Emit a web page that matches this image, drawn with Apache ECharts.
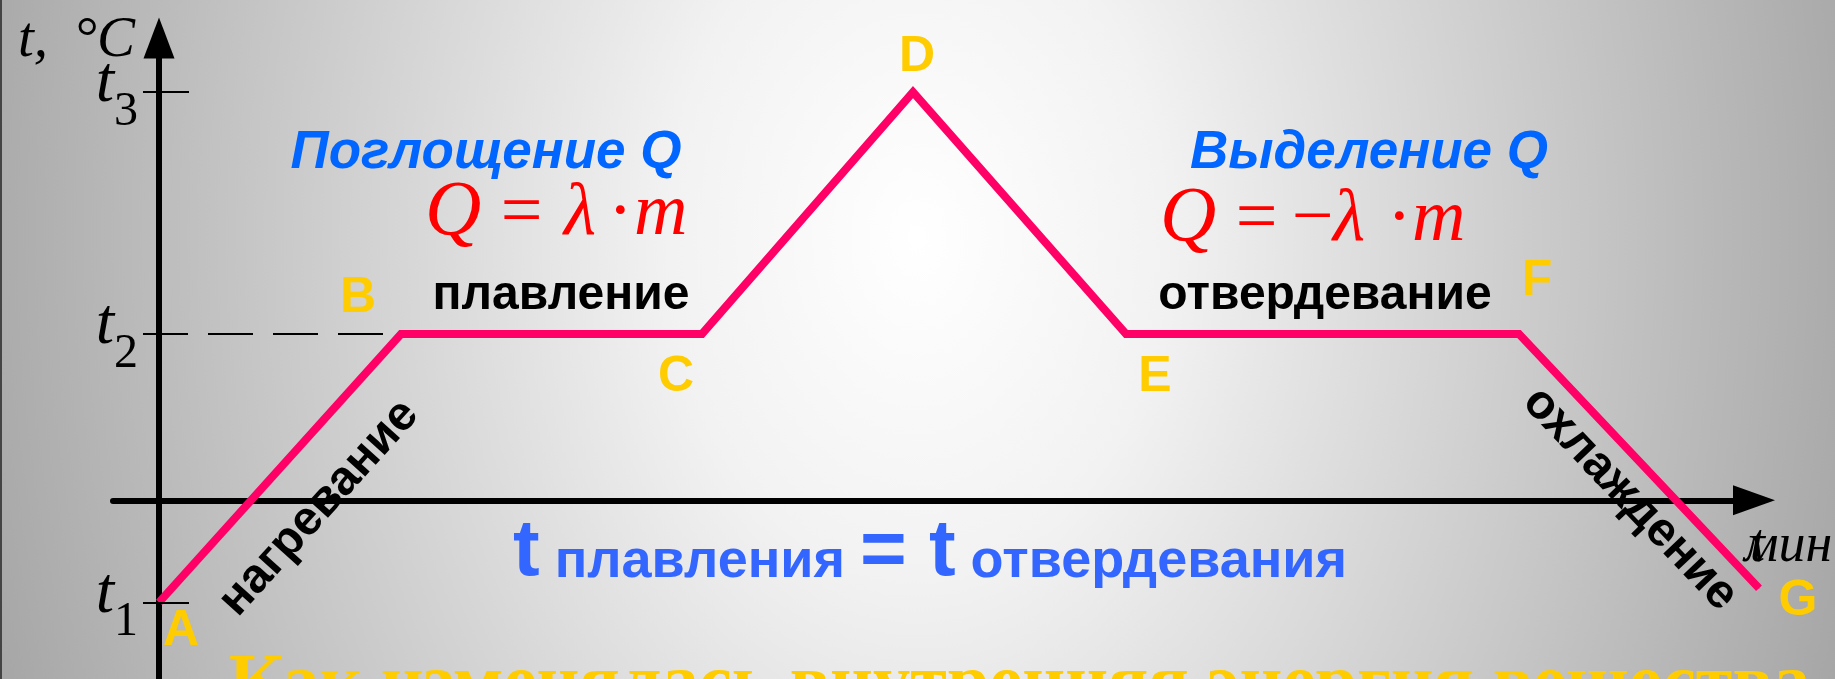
<!DOCTYPE html>
<html>
<head>
<meta charset="utf-8">
<title>Плавление и отвердевание</title>
<script src="https://cdn.jsdelivr.net/npm/echarts@6.0.0/dist/echarts.min.js"></script>
<style>
  html, body { margin: 0; padding: 0; }
  #chart {
    width: 1835px;
    height: 679px;
    background: radial-gradient(ellipse 54% 200% at 50% 35%, #ffffff 0%, #f2f2f2 25%, #a4a4a4 100%);
  }
</style>
</head>
<body>
<div id="chart"></div>
<script>
// точки графика A..G
var pointNames = ['A', 'B', 'C', 'D', 'E', 'F', 'G']
var timeValues = [0, 24.2, 54.3, 75.4, 96.7, 136, 160]
var tempValues = [-10, 16.3, 16.3, 40, 16.3, 16.3, -8.6]

// отметки на оси температуры: t1, t2, t3
var tickValues = [-10, 16.3, 40]
var tickNames = ['1', '2', '3']
var meltTemp = 16.3

var chart = echarts.init(document.getElementById('chart'))

// смещения подписей точек (px)
var labelOffsets = [[22, 29], [-43, -36], [-26, 43], [4, -35], [29, 43], [18, -53], [39, 13]]

var lineData = []
for (var i = 0; i < pointNames.length; i++) {
  lineData.push({
    name: pointNames[i],
    value: [timeValues[i], tempValues[i]],
    label: { offset: labelOffsets[i] }
  })
}

var tickLines = []
for (var j = 0; j < tickValues.length; j++) {
  var dashed = tickValues[j] === meltTemp
  tickLines.push([
    { coord: [-1.6, tickValues[j]], lineStyle: { type: dashed ? [45, 20] : 'solid' } },
    { coord: [dashed ? timeValues[1] : 3, tickValues[j]] }
  ])
}

var sans = 'Liberation Sans'
var serif = 'Liberation Serif'
var narrow = "'Liberation Sans Narrow', 'Liberation Sans'"

// формула из отдельных знаков: [знак, x, размер]
function formula(parts, baseline) {
  var res = []
  for (var k = 0; k < parts.length; k++) {
    var size = parts[k][2] || 74
    res.push({
      type: 'text', x: parts[k][1], y: baseline - 0.3375 * size,
      style: { text: parts[k][0], fill: '#ff0000', fontFamily: serif, fontStyle: 'italic', fontSize: size, verticalAlign: 'middle' }
    })
  }
  return res
}

function caption(text, x, y, opts) {
  return {
    type: 'text', x: x, y: y, rotation: (opts.rotate || 0) * Math.PI / 180,
    style: {
      text: text, fill: opts.color || '#000', fontFamily: opts.family || sans,
      fontWeight: opts.weight || 'bold', fontStyle: opts.style || 'normal',
      fontSize: opts.size, align: opts.align || 'center', verticalAlign: 'middle'
    }
  }
}

var graphics = [
  { type: 'rect', x: 0, y: 0, shape: { width: 2, height: 679 }, style: { fill: '#444' } },
  {
    type: 'text', x: 18, y: 41,
    style: {
      text: '{a|t,}{b|°C}', verticalAlign: 'middle',
      rich: {
        a: { fontFamily: serif, fontStyle: 'italic', fontSize: 57, fill: '#000' },
        b: { fontFamily: serif, fontStyle: 'italic', fontSize: 57, fill: '#000', padding: [0, 0, 0, 26] }
      }
    }
  },
  caption('Поглощение Q', 486, 153, { color: '#0066ff', style: 'italic', size: 53 }),
  caption('плавление', 561, 296, { size: 48 }),
  caption('Выделение Q', 1369, 153, { color: '#0066ff', style: 'italic', size: 53 }),
  caption('отвердевание', 1325, 296, { size: 48 }),
  caption('нагревание', 319, 508, { size: 48, rotate: 48 }),
  caption('охлаждение', 1630, 499, { size: 48, rotate: -46.5 }),
  caption('мин', 1744, 547, { family: serif, weight: 'normal', style: 'italic', size: 54, align: 'left' }),
  caption('t', 1750, 547, { family: serif, weight: 'normal', style: 'italic', size: 54, align: 'left' }),
  {
    type: 'text', x: 930, y: 553,
    style: {
      text: '{b|t}{s| плавления }{b|= t}{s| отвердевания}', align: 'center', verticalAlign: 'middle',
      rich: {
        b: { fontFamily: narrow, fontWeight: 'bold', fontSize: 80, fill: '#3366ff' },
        s: { fontFamily: narrow, fontWeight: 'bold', fontSize: 54, fill: '#3366ff', padding: [18, 0, 0, 0] }
      }
    }
  },
  caption('Как изменялась внутренняя энергия вещества', 229, 686, { color: '#ffcc00', family: serif, size: 74.5, align: 'left' })
]

graphics = graphics
  .concat(formula([['Q', 425, 78], ['=', 496], ['λ', 564], ['·', 610], ['m', 634]], 240))
  .concat(formula([['Q', 1160, 78], ['=', 1231], ['−', 1287], ['λ', 1333], ['·', 1389], ['m', 1412]], 246))

var option = {
  animation: false,
  grid: { left: 113, right: 74, top: 41, bottom: 0, outerBoundsMode: 'none' },
  xAxis: {
    type: 'value',
    min: -4.6,
    max: 160.2,
    axisLine: {
      onZero: true,
      symbol: ['none', 'triangle'],
      symbolSize: [30, 42],
      symbolOffset: [0, -7],
      lineStyle: { color: '#000', width: 6 }
    },
    axisTick: { show: false },
    axisLabel: { show: false },
    splitLine: { show: false }
  },
  yAxis: {
    type: 'value',
    min: -17.5,
    max: 45,
    axisLine: {
      show: true,
      onZero: true,
      symbol: ['none', 'triangle'],
      symbolSize: [31, 41],
      symbolOffset: [0, 3],
      lineStyle: { color: '#000', width: 6 }
    },
    axisTick: { show: false },
    splitLine: { show: false },
    axisLabel: {
      customValues: tickValues,
      margin: -25,
      formatter: function (v) {
        var k = tickValues.indexOf(v)
        return '{t|t}{s|' + tickNames[k] + '}'
      },
      rich: {
        t: { fontFamily: serif, fontStyle: 'italic', fontSize: 66, color: '#000', padding: [0, 0, 16, 0] },
        s: { fontFamily: serif, fontSize: 48, color: '#000', padding: [40, 0, 0, 0] }
      }
    }
  },
  series: [{
    type: 'line',
    data: lineData,
    symbol: 'circle',
    symbolSize: 1,
    clip: false,
    z: 3,
    itemStyle: { color: '#ff0066' },
    lineStyle: { color: '#ff0066', width: 8, join: 'miter' },
    label: {
      show: true,
      position: 'inside',
      formatter: '{b}',
      color: '#ffcc00',
      fontFamily: sans,
      fontWeight: 'bold',
      fontSize: 50,
      textBorderWidth: 0
    },
    markLine: {
      silent: true,
      symbol: ['none', 'none'],
      label: { show: false },
      lineStyle: { color: '#000', width: 2 },
      data: tickLines
    }
  }],
  graphic: graphics
}

chart.setOption(option)
</script>
</body>
</html>
